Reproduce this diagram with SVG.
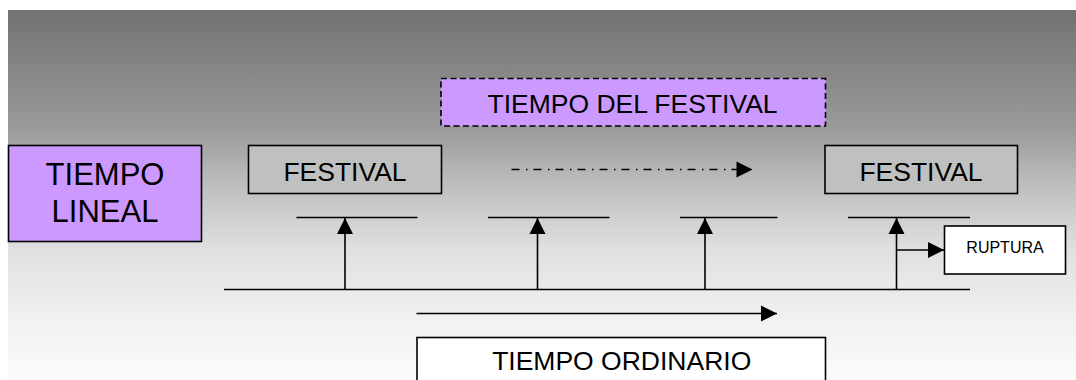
<svg xmlns="http://www.w3.org/2000/svg" width="1076" height="380" viewBox="0 0 1076 380">
<style>
.box{stroke:#000;stroke-width:1.6}
.t{font-family:"Liberation Sans",Arial,sans-serif;fill:#000;text-anchor:middle}
.ln{stroke:#000;stroke-width:1.6;fill:none}
</style>
<defs>
<linearGradient id="bg" x1="0" y1="10" x2="0" y2="380" gradientUnits="userSpaceOnUse">
<stop offset="0" stop-color="#727272"/>
<stop offset="0.32" stop-color="#9a9a9a"/>
<stop offset="0.5" stop-color="#c4c4c4"/>
<stop offset="0.65" stop-color="#e0e0e0"/>
<stop offset="0.85" stop-color="#f2f2f2"/>
<stop offset="1" stop-color="#fbfbfb"/>
</linearGradient>
<marker id="ah" markerUnits="userSpaceOnUse" markerWidth="18" markerHeight="18" refX="16" refY="8" orient="auto" overflow="visible">
<path d="M0,0 L16,8 L0,16 z" fill="#000"/>
</marker>
</defs>
<rect x="0" y="0" width="1076" height="380" fill="#fff"/>
<rect x="8" y="10" width="1068" height="370" fill="url(#bg)"/>

<g id="connectors">
<line class="ln" x1="296.5" y1="217.5" x2="417.5" y2="217.5"/>
<line class="ln" x1="488" y1="217.5" x2="609.5" y2="217.5"/>
<line class="ln" x1="680" y1="217.5" x2="777.5" y2="217.5"/>
<line class="ln" x1="848" y1="217.5" x2="970" y2="217.5"/>
<line class="ln" x1="224" y1="289.5" x2="970" y2="289.5"/>
<line class="ln" x1="345" y1="289.5" x2="345" y2="218" marker-end="url(#ah)"/>
<line class="ln" x1="537.5" y1="289.5" x2="537.5" y2="218" marker-end="url(#ah)"/>
<line class="ln" x1="705" y1="289.5" x2="705" y2="218" marker-end="url(#ah)"/>
<line class="ln" x1="896.5" y1="289.5" x2="896.5" y2="218" marker-end="url(#ah)"/>
<line class="ln" x1="896.5" y1="250" x2="944" y2="250" marker-end="url(#ah)"/>
<line class="ln" x1="416.5" y1="313.5" x2="777" y2="313.5" marker-end="url(#ah)"/>
<line class="ln" x1="511.5" y1="169.5" x2="752.5" y2="169.5" stroke-dasharray="8,6.5,1.5,6" marker-end="url(#ah)"/>
</g>

<g id="tiempo-lineal">
<rect class="box" x="8.5" y="145.5" width="193" height="96" fill="#CC99FF"/>
<text class="t" x="105" y="185" font-size="31">TIEMPO</text>
<text class="t" x="105" y="221.5" font-size="31">LINEAL</text>
</g>

<g id="tiempo-del-festival">
<rect class="box" x="441" y="78.5" width="384.5" height="47.5" fill="#CC99FF" stroke-dasharray="6,3.5"/>
<text class="t" x="632.5" y="113.3" font-size="26.5">TIEMPO DEL FESTIVAL</text>
</g>

<g id="festival-1">
<rect class="box" x="248.5" y="145.5" width="193" height="48" fill="#C0C0C0"/>
<text class="t" x="345" y="180.8" font-size="26.5">FESTIVAL</text>
</g>

<g id="festival-2">
<rect class="box" x="825" y="145.5" width="192.5" height="48" fill="#C0C0C0"/>
<text class="t" x="921" y="180.8" font-size="26.5">FESTIVAL</text>
</g>

<g id="ruptura">
<rect class="box" x="944.5" y="226" width="121" height="48" fill="#fff"/>
<text class="t" x="1005" y="252.5" font-size="16">RUPTURA</text>
</g>

<g id="tiempo-ordinario">
<rect class="box" x="417" y="337.5" width="408.5" height="60" fill="#fff"/>
<text class="t" x="621.7" y="370" font-size="26.5">TIEMPO ORDINARIO</text>
</g>
</svg>
